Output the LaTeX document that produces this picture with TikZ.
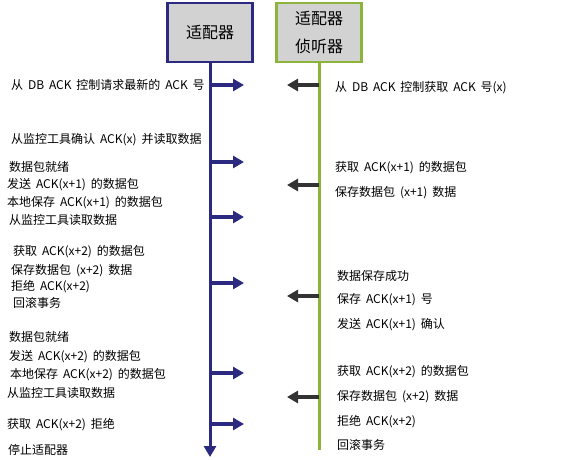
\documentclass[tikz,border=0pt]{standalone}
\usepackage{fontspec}
\setmainfont[WordSpace=1.8]{Noto Sans CJK SC}
\usetikzlibrary{arrows.meta}

\definecolor{navy}{HTML}{2B2A80}
\definecolor{olive}{HTML}{8CB33A}
\definecolor{darkarrow}{HTML}{333333}

\tikzset{
  actor/.style={draw,line width=2.5pt,fill=gray!35,minimum width=85pt,minimum height=59pt,
    inner sep=0pt,align=center,font=\fontsize{16}{19}\selectfont},
  msg/.style={anchor=west,inner sep=0pt,font=\fontsize{12}{14}\selectfont},
  tip/.style={-{Triangle[length=11pt,width=12pt]}},
  lifeline/.style={line width=3pt},
  send/.style={tip,line width=3.5pt,navy},
  reply/.style={tip,line width=3.5pt,darkarrow}
}

\begin{document}
\begin{tikzpicture}[x=1pt,y=-1pt]
          \useasboundingbox (0,0) rectangle (568,459);
          \node[actor,draw=navy] (adapter) at (210,32.5){适配器};
          \node[actor,draw=olive] (listener) at (319,32.5){适配器\\[9pt]侦听器};
          \coordinate (adapterend) at (210,457);
          \coordinate (listenerend) at (319,450);
          \draw[lifeline,navy,-{Triangle[length=11pt,width=12pt]}] (adapter.south) -- (adapterend);
          \draw[lifeline,olive] (listener.south) -- (listenerend);
          % adapter side
          \node[msg] (a1) at (11,85){从 DB ACK 控制请求最新的 ACK 号};
          \node[msg] (a2) at (11,140){从监控工具确认 ACK(x) 并读取数据};
          \node[msg] (a3) at (9,167){数据包就绪};
          \node[msg] (a4) at (7,185){发送 ACK(x+1) 的数据包};
          \node[msg] (a5) at (7,203){本地保存 ACK(x+1) 的数据包};
          \node[msg] (a6) at (9,220){从监控工具读取数据};
          \node[msg] (a7) at (13,252){获取 ACK(x+2) 的数据包};
          \node[msg] (a8) at (11,271){保存数据包 (x+2) 数据};
          \node[msg] (a9) at (11,287){拒绝 ACK(x+2)};
          \node[msg] (a10) at (13,303){回滚事务};
          \node[msg] (a11) at (9,337){数据包就绪};
          \node[msg] (a12) at (9,357){发送 ACK(x+2) 的数据包};
          \node[msg] (a13) at (10,375){本地保存 ACK(x+2) 的数据包};
          \node[msg] (a14) at (7,393){从监控工具读取数据};
          \node[msg] (a15) at (7,425){获取 ACK(x+2) 拒绝};
          \node[msg] (a16) at (8,450){停止适配器};
          % listener side
          \node[msg] (b1) at (335,88){从 DB ACK 控制获取 ACK 号(x)};
          \node[msg] (b2) at (335,168){获取 ACK(x+1) 的数据包};
          \node[msg] (b3) at (335,193){保存数据包 (x+1) 数据};
          \node[msg] (b4) at (337,276){数据保存成功};
          \node[msg] (b5) at (337,300){保存 ACK(x+1) 号};
          \node[msg] (b6) at (337,325){发送 ACK(x+1) 确认};
          \node[msg] (b7) at (337,372){获取 ACK(x+2) 的数据包};
          \node[msg] (b8) at (337,397){保存数据包 (x+2) 数据};
          \node[msg] (b9) at (337,422){拒绝 ACK(x+2)};
          \node[msg] (b10) at (337,445){回滚事务};
          % arrows
          \foreach \y [count=\i] in {85,162,217,283,373,424}{
            \coordinate (s\i) at (210,\y);
            \coordinate (t\i) at (244,\y);
            \draw[send] (s\i) -- (t\i);
          }
          \foreach \y [count=\i] in {85,185,296,397}{
            \coordinate (u\i) at (319,\y);
            \coordinate (w\i) at (287,\y);
            \draw[reply] (u\i) -- (w\i);
          }
        \end{tikzpicture}
\end{document}
